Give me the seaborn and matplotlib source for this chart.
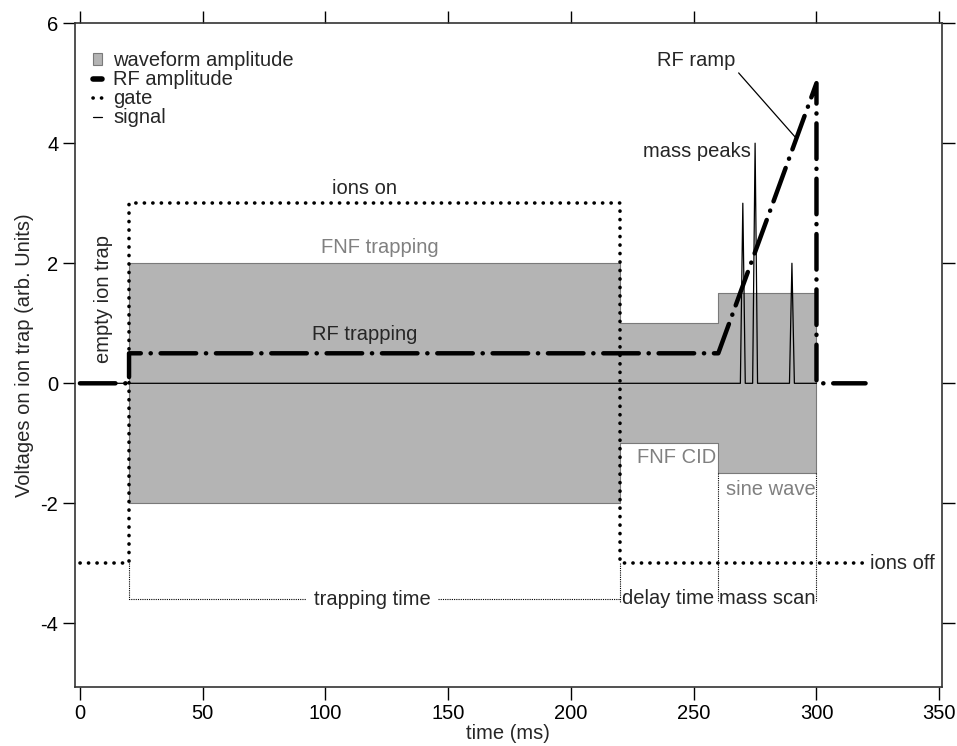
import matplotlib
matplotlib.use("Agg")
import matplotlib.pyplot as plt
import matplotlib.patches as mpatches
import matplotlib.lines as mlines
import seaborn as sns

# waveform amplitude (gray band), piecewise constant
wave_t = [20, 220, 220, 260, 260, 300]
wave_amp = [2, 2, 1, 1, 1.5, 1.5]

# RF amplitude
rf_t = [0, 20, 20, 260, 300, 300, 320]
rf_v = [0, 0, 0.5, 0.5, 5, 0, 0]

# gate
gate_t = [0, 20, 20, 220, 220, 320]
gate_v = [-3, -3, 3, 3, -3, -3]

# signal with mass peaks
sig_t = [0, 269, 270, 271, 274, 275, 276, 289, 290, 291, 300]
sig_v = [0, 0, 3, 0, 0, 4, 0, 0, 2, 0, 0]

sns.set_style("ticks")
plt.rcParams["font.family"] = ["Liberation Sans", "DejaVu Sans"]
plt.rcParams["axes.unicode_minus"] = False

fig = plt.figure(figsize=(9.57, 7.46), dpi=100)
ax = fig.add_axes([0.0784, 0.079, 0.9056, 0.89])

ax.fill_between(wave_t, [-a for a in wave_amp], wave_amp, color="#b4b4b4",
                edgecolor="#7a7a7a", linewidth=0.8, zorder=1)

# bracket lines for time intervals
br = dict(color="black", linewidth=0.8, linestyle=(0, (1, 1)), zorder=2)
ax.plot([20, 20, 92], [-3, -3.6, -3.6], **br)
ax.plot([146, 220], [-3.6, -3.6], **br)
ax.plot([220, 220], [-3, -3.65], **br)
ax.plot([260, 260], [-1.5, -3.65], **br)
ax.plot([300, 300], [-1.5, -3.65], **br)

sns.lineplot(x=gate_t, y=gate_v, ax=ax, sort=False, estimator=None, color="black",
             linewidth=2.6, linestyle=(0, (0.05, 2.3)), dash_capstyle="round", zorder=3)
sns.lineplot(x=sig_t, y=sig_v, ax=ax, sort=False, estimator=None, color="black",
             linewidth=0.9, zorder=4)
sns.lineplot(x=rf_t, y=rf_v, ax=ax, sort=False, estimator=None, color="black",
             linewidth=3.2, linestyle=(0, (8, 2.2, 0.05, 2.2)), dash_capstyle="round",
             solid_capstyle="round", zorder=5)

fs = 14.5
ax.text(116, 3.25, "ions on", fontsize=fs, ha="center", va="center")
ax.text(122, 2.27, "FNF trapping", fontsize=fs, ha="center", va="center", color="#808080")
ax.text(116, 0.82, "RF trapping", fontsize=fs, ha="center", va="center")
ax.text(9.4, 1.4, "empty ion trap", fontsize=fs, ha="center", va="center", rotation=90)
ax.text(251.5, 3.86, "mass peaks", fontsize=fs, ha="center", va="center")
ax.annotate("RF ramp", xy=(291.8, 4.08), xytext=(251, 5.37), fontsize=fs,
            ha="center", va="center",
            arrowprops=dict(arrowstyle="-", color="black", linewidth=0.9,
                            shrinkA=0, shrinkB=0, relpos=(0.95, 0.3)))
ax.text(243, -1.24, "FNF CID", fontsize=fs, ha="center", va="center", color="#808080")
ax.text(281.6, -1.77, "sine wave", fontsize=fs, ha="center", va="center", color="#808080")
ax.text(322, -3.0, "ions off", fontsize=fs, ha="left", va="center")
ax.text(119, -3.6, "trapping time", fontsize=fs, ha="center", va="center")
ax.text(239.5, -3.58, "delay time", fontsize=fs, ha="center", va="center")
ax.text(280, -3.58, "mass scan", fontsize=fs, ha="center", va="center")

handles = [
    mpatches.Patch(facecolor="#b4b4b4", edgecolor="#7a7a7a", linewidth=0.8),
    mlines.Line2D([], [], color="black", linewidth=4, solid_capstyle="round"),
    mlines.Line2D([], [], color="black", linewidth=2.6, linestyle=(0, (0.05, 2.3)),
                  dash_capstyle="round"),
    mlines.Line2D([], [], color="black", linewidth=0.9),
]
labels = ["waveform amplitude", "RF amplitude", "gate", "signal"]
ax.legend(handles, labels, loc="upper left", frameon=False, fontsize=fs,
          handlelength=0.45, handleheight=0.5, handletextpad=0.55, labelspacing=0.0,
          bbox_to_anchor=(0.0, 0.985))

ax.set_xlim(-2, 351)
ax.set_ylim(-5.06, 6)
ax.set_xticks(range(0, 351, 50))
ax.set_yticks([-4, -2, 0, 2, 4, 6])
ax.tick_params(direction="out", length=9, width=1.0, labelsize=fs, colors="black",
               top=True, right=True, labeltop=False, labelright=False, pad=3)
for s in ax.spines.values():
    s.set_visible(True)
    s.set_linewidth(1.2)
    s.set_color("#333333")
ax.set_xlabel("time (ms)", fontsize=fs, labelpad=1)
ax.set_ylabel("Voltages on ion trap (arb. Units)", fontsize=fs, labelpad=5)

fig.savefig("out.png", dpi=100)
